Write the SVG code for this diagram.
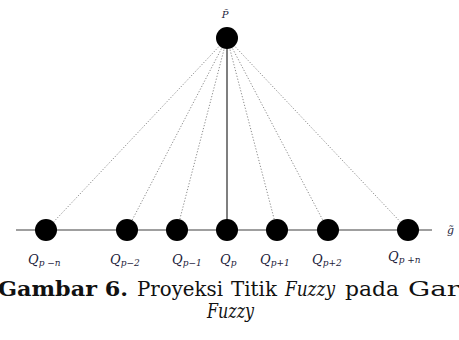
<svg xmlns="http://www.w3.org/2000/svg" width="459" height="340" viewBox="0 0 459 340">
  <style>
    .ray { stroke: #8a8a8a; stroke-width: 1; stroke-dasharray: 1.2 1.8; fill: none; }
    .axis { stroke: #7f7f7f; stroke-width: 1.6; fill: none; }
    .stem { stroke: #555; stroke-width: 1.5; fill: none; }
    .dot { fill: #000; }
    .lbl { font-family: "DejaVu Serif", "Liberation Serif", serif; font-style: italic; fill: #1c1c3a; }
    .q { font-size: 13px; }
    .sub { font-size: 9px; }
    .cap { font-family: "DejaVu Serif", "Liberation Serif", serif; font-size: 20px; fill: #111; }
  </style>

  <rect width="459" height="340" fill="#fff"/>

  <!-- connectors: projection rays, vertical stem and the fuzzy line -->
  <g id="connectors">
    <line class="axis" x1="16" y1="230" x2="432" y2="230"/>
    <line class="ray" x1="227" y1="38" x2="46" y2="230"/>
    <line class="ray" x1="227" y1="38" x2="127" y2="230"/>
    <line class="ray" x1="227" y1="38" x2="177" y2="230"/>
    <line class="ray" x1="227" y1="38" x2="277" y2="230"/>
    <line class="ray" x1="227" y1="38" x2="328" y2="230"/>
    <line class="ray" x1="227" y1="38" x2="408" y2="230"/>
    <line class="stem" x1="227" y1="38" x2="227" y2="230"/>
  </g>

  <g id="P">
    <circle class="dot" cx="227" cy="38" r="11"/>
    <text class="lbl" x="225" y="18" font-size="10" text-anchor="middle">P̃</text>
  </g>

  <g id="Qpn_minus">
    <circle class="dot" cx="46" cy="230" r="11"/>
    <text class="lbl" x="28" y="264"><tspan class="q">Q</tspan><tspan class="sub" dy="2">p −n</tspan></text>
  </g>
  <g id="Qp_minus2">
    <circle class="dot" cx="127" cy="230" r="11"/>
    <text class="lbl" x="110" y="264"><tspan class="q">Q</tspan><tspan class="sub" dy="2">p−2</tspan></text>
  </g>
  <g id="Qp_minus1">
    <circle class="dot" cx="177" cy="230" r="11"/>
    <text class="lbl" x="172" y="264"><tspan class="q">Q</tspan><tspan class="sub" dy="2">p−1</tspan></text>
  </g>
  <g id="Qp">
    <circle class="dot" cx="227" cy="230" r="11"/>
    <text class="lbl" x="220" y="264"><tspan class="q">Q</tspan><tspan class="sub" dy="2">p</tspan></text>
  </g>
  <g id="Qp_plus1">
    <circle class="dot" cx="277" cy="230" r="11"/>
    <text class="lbl" x="260" y="264"><tspan class="q">Q</tspan><tspan class="sub" dy="2">p+1</tspan></text>
  </g>
  <g id="Qp_plus2">
    <circle class="dot" cx="328" cy="230" r="11"/>
    <text class="lbl" x="312" y="264"><tspan class="q">Q</tspan><tspan class="sub" dy="2">p+2</tspan></text>
  </g>
  <g id="Qpn_plus">
    <circle class="dot" cx="408" cy="230" r="11"/>
    <text class="lbl" x="388" y="261"><tspan class="q">Q</tspan><tspan class="sub" dy="2">p +n</tspan></text>
  </g>

  <text class="lbl" x="447" y="234" font-size="11">g̃</text>

  <!-- caption -->
  <text class="cap" y="296">
    <tspan x="-2" font-weight="bold" textLength="130" lengthAdjust="spacingAndGlyphs">Gambar 6.</tspan>
    <tspan x="137" textLength="86" lengthAdjust="spacingAndGlyphs">Proyeksi</tspan>
    <tspan x="231" textLength="46" lengthAdjust="spacingAndGlyphs">Titik</tspan>
    <tspan x="285" font-style="italic" textLength="50" lengthAdjust="spacingAndGlyphs">Fuzzy</tspan>
    <tspan x="345" textLength="54" lengthAdjust="spacingAndGlyphs">pada</tspan>
    <tspan x="408" textLength="52" lengthAdjust="spacingAndGlyphs">Gar</tspan>
  </text>
  <text class="cap" x="207" y="318" font-style="italic" textLength="47" lengthAdjust="spacingAndGlyphs">Fuzzy</text>
</svg>
